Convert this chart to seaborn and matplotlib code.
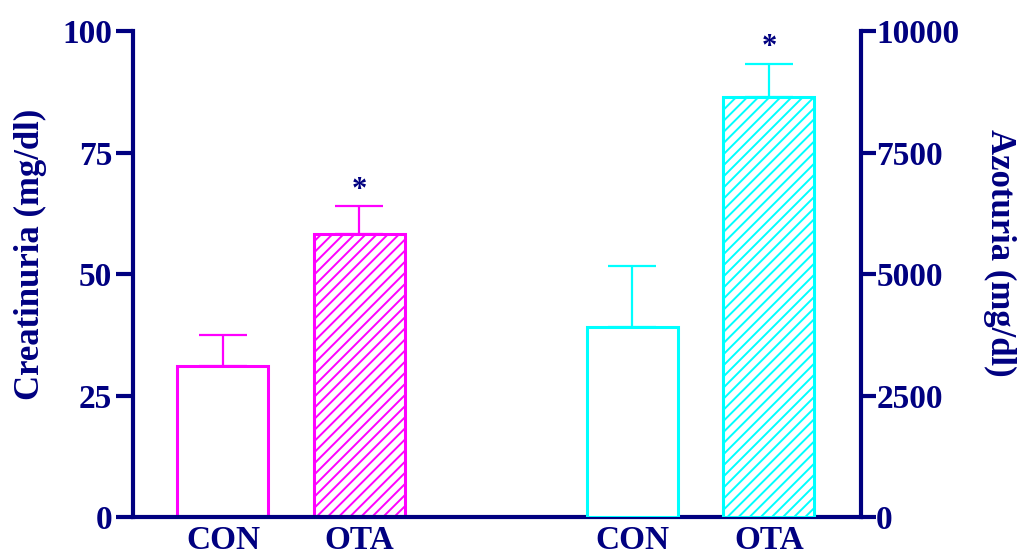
import numpy as np
import pandas as pd
import matplotlib
matplotlib.use("Agg")
import matplotlib.pyplot as plt
import seaborn as sns

# Group labels and bar positions (two pairs separated by a gap)
groups = ["CON", "OTA"]
creat_pos = [0, 1]
azot_pos = [3, 4]

# Creatinuria (mg/dl): mean and upper SEM
creat_mean = [31.1, 58.2]
creat_sem = [6.3, 5.7]

# Azoturia (mg/dl): mean and upper SEM
azot_mean = [3920, 8640]
azot_sem = [1250, 690]

left_ticks = [0, 25, 50, 75, 100]
right_ticks = [0, 2500, 5000, 7500, 10000]

navy = "#000080"
magenta = "#FF00FF"
cyan = "#00FFFF"

sns.set_style("white")
plt.rcParams["font.family"] = ["Liberation Serif", "DejaVu Serif"]
plt.rcParams["font.weight"] = "bold"
plt.rcParams["hatch.linewidth"] = 1.4

fig = plt.figure(figsize=(10.23, 5.59), dpi=100)
ax = fig.add_axes([0.130, 0.0751, 0.8416 - 0.130, 0.9445 - 0.0751])
ax2 = ax.twinx()

df_c = pd.DataFrame({"pos": creat_pos, "value": creat_mean, "group": groups})
df_a = pd.DataFrame({"pos": azot_pos, "value": azot_mean, "group": groups})

sns.barplot(data=df_c, x="pos", y="value", native_scale=True, width=0.667,
            errorbar=None, color="white", ax=ax, zorder=2)
sns.barplot(data=df_a, x="pos", y="value", native_scale=True, width=0.667,
            errorbar=None, color="white", ax=ax2, zorder=2)

for axis, col in ((ax, magenta), (ax2, cyan)):
    for i, p in enumerate(axis.patches):
        p.set_facecolor("white")
        p.set_edgecolor(col)
        p.set_linewidth(2.2)
        if i == 1:
            p.set_hatch("///")

# Upper-only error bars
ax.errorbar(creat_pos, creat_mean, yerr=[np.zeros(2), creat_sem], fmt="none",
            ecolor=magenta, elinewidth=1.6, capsize=17, capthick=1.6, zorder=1)
ax2.errorbar(azot_pos, azot_mean, yerr=[np.zeros(2), azot_sem], fmt="none",
             ecolor=cyan, elinewidth=1.6, capsize=17, capthick=1.6, zorder=1)

# Significance markers above OTA bars
ax.annotate("*", (creat_pos[1], creat_mean[1] + creat_sem[1]), xytext=(0, 1),
            textcoords="offset points", ha="center", va="bottom",
            fontsize=22, fontweight="bold", color=navy)
ax2.annotate("*", (azot_pos[1], azot_mean[1] + azot_sem[1]), xytext=(0, 1),
             textcoords="offset points", ha="center", va="bottom",
             fontsize=22, fontweight="bold", color=navy)

ax.set_ylim(0, 100)
ax2.set_ylim(0, 10000)
ax.set_xlim(-0.659, 4.674)

ax.set_yticks(left_ticks)
ax.set_yticklabels([str(t) for t in left_ticks])
ax2.set_yticks(right_ticks)
ax2.set_yticklabels([str(t) for t in right_ticks])
ax.set_xticks(creat_pos + azot_pos)
ax.set_xticklabels(groups + groups)

for a in (ax, ax2):
    for s in a.spines.values():
        s.set_visible(False)
        s.set_color(navy)
        s.set_linewidth(3)
    a.set_xlabel("")
    a.set_ylabel("")
    a.grid(False)

ax.spines["left"].set_visible(True)
ax.spines["bottom"].set_visible(True)
ax2.spines["right"].set_visible(True)

ax.tick_params(axis="y", direction="out", length=12, width=3, color=navy,
               labelcolor=navy, labelsize=24, pad=3, left=True)
ax.tick_params(axis="x", length=0, labelcolor=navy, labelsize=24, pad=6)
ax2.tick_params(axis="y", direction="out", length=11, width=3, color=navy,
                labelcolor=navy, labelsize=24, pad=0, right=True)
for lbl in ax.get_yticklabels() + ax.get_xticklabels() + ax2.get_yticklabels():
    lbl.set_fontweight("bold")

ax.set_ylabel("Creatinuria (mg/dl)", fontsize=25, fontweight="bold", color=navy,
              va="center", ha="center")
ax2.set_ylabel("Azoturia (mg/dl)", fontsize=25, fontweight="bold", color=navy,
               rotation=270, va="center", ha="center")
ax.yaxis.set_label_coords(-0.1415, 0.541)
ax2.yaxis.set_label_coords(1.191, 0.543)

fig.savefig("out.png", dpi=100)
